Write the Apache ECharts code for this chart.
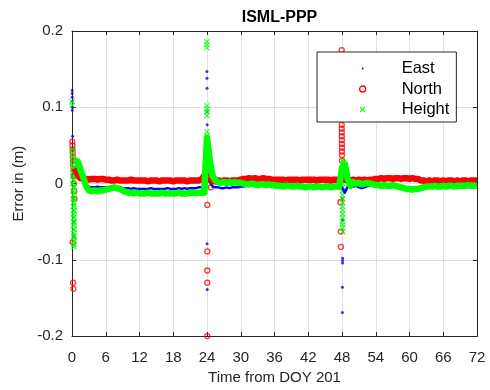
<!DOCTYPE html>
<html>
<head>
<meta charset="utf-8">
<script src="https://cdn.jsdelivr.net/npm/echarts@6/dist/echarts.min.js"></script>
<style>
  html, body { margin: 0; padding: 0; background: #fff; }
  #chart { width: 490px; height: 390px; }
</style>
</head>
<body>
<div id="chart"></div>
<script>
// PPP positioning error at station ISML, hours counted from DOY 201 00:00.

// Half-hourly epochs of the steady-state solution
const hours = [
  0.5, 1, 1.5, 2, 2.5, 3, 3.5, 4, 4.5, 5, 5.5, 6,
  6.5, 7, 7.5, 8, 8.5, 9, 9.5, 10, 10.5, 11, 11.5, 12,
  12.5, 13, 13.5, 14, 14.5, 15, 15.5, 16, 16.5, 17, 17.5, 18,
  18.5, 19, 19.5, 20, 20.5, 21, 21.5, 22, 22.5, 23, 23.5, 24,
  24.5, 25, 25.5, 26, 26.5, 27, 27.5, 28, 28.5, 29, 29.5, 30,
  30.5, 31, 31.5, 32, 32.5, 33, 33.5, 34, 34.5, 35, 35.5, 36,
  36.5, 37, 37.5, 38, 38.5, 39, 39.5, 40, 40.5, 41, 41.5, 42,
  42.5, 43, 43.5, 44, 44.5, 45, 45.5, 46, 46.5, 47, 47.5, 48,
  48.5, 49, 49.5, 50, 50.5, 51, 51.5, 52, 52.5, 53, 53.5, 54,
  54.5, 55, 55.5, 56, 56.5, 57, 57.5, 58, 58.5, 59, 59.5, 60,
  60.5, 61, 61.5, 62, 62.5, 63, 63.5, 64, 64.5, 65, 65.5, 66,
  66.5, 67, 67.5, 68, 68.5, 69, 69.5, 70, 70.5, 71, 71.5, 72
];

// Error components (m) at those epochs
const east = [
  0.020, 0.015, 0.008, 0.002, -0.003, -0.004, -0.005, -0.005, -0.004, -0.005, -0.005, -0.005,
  -0.005, -0.004, -0.005, -0.005, -0.005, -0.006, -0.006, -0.006, -0.007, -0.006, -0.007, -0.007,
  -0.007, -0.007, -0.007, -0.006, -0.007, -0.007, -0.007, -0.007, -0.007, -0.006, -0.007, -0.007,
  -0.007, -0.006, -0.007, -0.006, -0.007, -0.006, -0.006, -0.006, -0.005, -0.005, -0.004, 0.010,
  0.002, -0.004, -0.005, -0.005, -0.006, -0.006, -0.005, -0.006, -0.005, -0.005, -0.005, -0.004,
  -0.004, -0.003, -0.003, -0.003, -0.002, -0.002, -0.003, -0.003, -0.002, -0.003, -0.003, -0.004,
  -0.004, -0.004, -0.005, -0.004, -0.004, -0.005, -0.004, -0.004, -0.005, -0.004, -0.004, -0.005,
  -0.005, -0.004, -0.004, -0.005, -0.004, -0.004, -0.004, -0.005, -0.004, -0.004, -0.004, -0.005,
  -0.012, -0.004, -0.005, -0.004, -0.003, -0.005, -0.006, -0.005, -0.003, -0.003, -0.002, -0.003,
  -0.003, -0.003, -0.004, -0.003, -0.003, -0.004, -0.004, -0.005, -0.004, -0.004, -0.005, -0.005,
  -0.005, -0.005, -0.006, -0.005, -0.004, -0.004, -0.004, -0.004, -0.003, -0.003, -0.003, -0.003,
  -0.003, -0.003, -0.003, -0.003, -0.002, -0.003, -0.003, -0.002, -0.002, -0.003, -0.002, -0.002
];
const north = [
  0.020, 0.012, 0.007, 0.006, 0.006, 0.005, 0.006, 0.006, 0.005, 0.006, 0.006, 0.005,
  0.005, 0.004, 0.004, 0.005, 0.004, 0.004, 0.004, 0.004, 0.005, 0.004, 0.004, 0.004,
  0.004, 0.004, 0.003, 0.004, 0.004, 0.004, 0.003, 0.004, 0.004, 0.004, 0.004, 0.003,
  0.004, 0.004, 0.004, 0.004, 0.003, 0.004, 0.004, 0.004, 0.004, 0.005, 0.010, 0.020,
  0.008, 0.003, 0.003, 0.004, 0.003, 0.004, 0.004, 0.003, 0.004, 0.004, 0.004, 0.005,
  0.006, 0.006, 0.007, 0.006, 0.007, 0.006, 0.006, 0.007, 0.006, 0.006, 0.005, 0.005,
  0.005, 0.005, 0.005, 0.004, 0.005, 0.005, 0.005, 0.005, 0.004, 0.005, 0.005, 0.005,
  0.005, 0.005, 0.004, 0.005, 0.005, 0.005, 0.005, 0.004, 0.005, 0.005, 0.005, 0.006,
  0.005, 0.004, 0.004, 0.005, 0.004, 0.005, 0.004, 0.005, 0.004, 0.005, 0.005, 0.006,
  0.006, 0.007, 0.006, 0.007, 0.007, 0.006, 0.007, 0.007, 0.006, 0.007, 0.007, 0.006,
  0.007, 0.006, 0.006, 0.004, 0.004, 0.003, 0.004, 0.003, 0.004, 0.004, 0.003, 0.004,
  0.003, 0.004, 0.004, 0.003, 0.004, 0.003, 0.004, 0.004, 0.003, 0.004, 0.004, 0.004
];
const height = [
  0.030, 0.029, 0.018, 0.008, -0.003, -0.009, -0.010, -0.009, -0.010, -0.009, -0.009, -0.008,
  -0.007, -0.006, -0.005, -0.006, -0.007, -0.009, -0.011, -0.012, -0.012, -0.013, -0.012, -0.013,
  -0.013, -0.013, -0.012, -0.013, -0.013, -0.013, -0.013, -0.012, -0.013, -0.013, -0.013, -0.013,
  -0.013, -0.012, -0.013, -0.013, -0.013, -0.012, -0.012, -0.013, -0.012, -0.012, -0.012, 0.060,
  0.030, 0.010, 0.004, 0.002, 0.001, 0.002, 0.001, 0.002, 0.001, 0.002, 0.001, 0.001,
  0.000, -0.001, -0.001, 0.000, -0.001, -0.002, -0.001, -0.001, -0.002, -0.001, -0.002, -0.002,
  -0.003, -0.003, -0.004, -0.003, -0.003, -0.004, -0.004, -0.003, -0.004, -0.004, -0.005, -0.004,
  -0.004, -0.005, -0.004, -0.004, -0.005, -0.004, -0.004, -0.005, -0.004, -0.004, -0.004, 0.020,
  0.025, 0.006, -0.003, 0.002, 0.000, 0.001, -0.001, 0.000, 0.001, 0.000, -0.001, -0.002,
  -0.002, -0.003, -0.002, -0.003, -0.003, -0.002, -0.003, -0.004, -0.005, -0.006, -0.007, -0.007,
  -0.008, -0.007, -0.007, -0.006, -0.005, -0.004, -0.004, -0.004, -0.003, -0.004, -0.004, -0.003,
  -0.004, -0.003, -0.003, -0.004, -0.003, -0.003, -0.003, -0.003, -0.002, -0.003, -0.003, -0.003
];

// Re-initialisation epochs at each day boundary: [hour, error (m)]
const eastReset = [
  [0.02, 0.122], [0.03, 0.118], [0.04, 0.113], [0.05, 0.108], [0.06, 0.100], [0.07, 0.096],
  [0.10, 0.062], [0.12, 0.045], [0.15, 0.030], [0.20, 0.010], [0.25, -0.020], [0.30, -0.050], [0.35, -0.070],
  [23.98, 0.147], [23.99, 0.138], [24.00, 0.125], [24.02, 0.094], [24.03, 0.077], [24.05, 0.050],
  [24.10, 0.030], [24.02, -0.079], [24.03, -0.139], [23.90, 0.000],
  [48.05, 0.020], [48.08, -0.020], [48.10, -0.048], [48.10, -0.098], [48.10, -0.101], [48.10, -0.104],
  [48.08, -0.136], [48.08, -0.169]
];
const northReset = [
  [0.05, 0.055], [0.08, 0.050], [0.10, 0.045], [0.12, 0.040], [0.15, 0.035], [0.18, 0.030],
  [0.20, 0.025], [0.25, 0.018], [0.30, 0.010], [0.35, 0.000], [0.40, -0.010], [0.45, -0.020],
  [0.10, -0.077], [0.20, -0.130], [0.25, -0.138],
  [23.70, 0.015], [23.80, 0.025], [23.90, 0.035], [24.00, 0.045], [24.10, 0.040], [24.20, 0.030],
  [24.30, 0.020], [24.50, 0.005], [24.70, -0.005], [24.05, -0.028], [24.05, -0.089], [24.05, -0.114],
  [24.05, -0.130], [24.05, -0.200],
  [47.95, 0.175], [47.95, 0.077], [47.95, 0.072], [47.97, 0.067], [47.97, 0.062], [47.98, 0.057],
  [47.98, 0.052], [47.99, 0.047], [47.99, 0.042], [48.00, 0.037], [48.00, 0.030], [48.05, 0.020],
  [48.10, 0.010], [47.70, -0.0245], [47.80, -0.063], [47.80, -0.083]
];
const heightReset = [
  [0.02, 0.107], [0.03, 0.103], [0.08, 0.045], [0.10, 0.040], [0.11, 0.035], [0.12, 0.030],
  [0.13, 0.025], [0.14, 0.020], [0.15, 0.015], [0.16, 0.010], [0.17, 0.005], [0.18, 0.000],
  [0.19, -0.005], [0.20, -0.010], [0.21, -0.015], [0.22, -0.020], [0.23, -0.025], [0.24, -0.030],
  [0.25, -0.035], [0.26, -0.040], [0.27, -0.045], [0.28, -0.050], [0.29, -0.055], [0.30, -0.060],
  [0.31, -0.065], [0.32, -0.070], [0.33, -0.075], [0.34, -0.080], [0.35, -0.083], [0.36, -0.076],
  [0.37, -0.068], [0.38, -0.060], [0.39, -0.052], [0.40, -0.044], [0.41, -0.036], [0.42, -0.028],
  [0.43, -0.020], [0.44, -0.012], [0.45, -0.004], [0.46, 0.004], [0.47, 0.012], [0.48, 0.020],
  [23.97, 0.186], [23.97, 0.182], [23.97, 0.178], [23.99, 0.102], [23.99, 0.098], [23.99, 0.094],
  [23.99, 0.089], [24.00, 0.068], [24.02, 0.062], [24.04, 0.056], [24.06, 0.050], [24.10, 0.045],
  [24.15, 0.040], [24.20, 0.035], [24.30, 0.030], [24.40, 0.025], [24.60, 0.018], [24.80, 0.012],
  [25.00, 0.008], [23.90, -0.005], [23.95, 0.010], [23.95, 0.020], [23.95, 0.030], [23.95, 0.040],
  [48.10, 0.030], [48.10, 0.025], [48.10, 0.020], [48.10, 0.015], [48.10, 0.010], [48.10, 0.005],
  [48.10, 0.000], [48.10, -0.005], [48.10, -0.010], [48.10, -0.015], [48.10, -0.020], [48.10, -0.025],
  [48.10, -0.030], [48.10, -0.035], [48.10, -0.040], [48.10, -0.045], [48.10, -0.050], [48.12, -0.054],
  [48.12, -0.058], [48.12, -0.063],
  [48.30, 0.028], [48.50, 0.025], [48.70, 0.018], [48.90, 0.010]
];

const xTicks = { min: 0, max: 72, step: 6 };
const yTicks = { min: -0.2, max: 0.2, step: 0.1 };

function pairs(times, values) {
  return times.map((t, i) => [t, values[i]]);
}

const FONT = '"Liberation Sans", Arial, Helvetica, sans-serif';
const INK = '#262626';
const BLUE = '#0000ff', RED = '#ff0000', GREEN = '#00ff00';
const CROSS = 'path://M0,1.4L1.4,0L5,3.6L8.6,0L10,1.4L6.4,5L10,8.6L8.6,10L5,6.4L1.4,10L0,8.6L3.6,5Z';
const DOT = 'path://M0,0ZM10,10ZM5,3.5A1.5,1.5,0,1,1,5,6.5A1.5,1.5,0,1,1,5,3.5Z';

const chart = echarts.init(document.getElementById('chart'), null, { renderer: 'canvas' });

const baseAxis = {
  axisLine: { show: true, onZero: false, lineStyle: { color: INK, width: 1 } },
  axisTick: { show: true, inside: true, length: 4, lineStyle: { color: INK } }
};

// dense 30 s solution rendered as a continuous band of markers
function band(name, data, color, width) {
  return {
    name, type: 'line', data, xAxisIndex: 0, yAxisIndex: 0,
    showSymbol: false, symbol: 'none', smooth: false,
    lineStyle: { color, width, cap: 'butt', join: 'round' },
    itemStyle: { color }
  };
}
function scatter(name, data, symbol, size, itemStyle) {
  return {
    name, type: 'scatter', data, xAxisIndex: 0, yAxisIndex: 0,
    symbol, symbolSize: size, itemStyle
  };
}

chart.setOption({
  animation: false,
  backgroundColor: '#fff',
  title: {
    text: 'ISML-PPP',
    left: 274.5,
    top: 5,
    textAlign: 'center',
    textStyle: { fontFamily: FONT, fontSize: 16, fontWeight: 'bold', color: '#000' }
  },
  grid: { left: 72, right: 13, top: 31, bottom: 49, containLabel: false },
  legend: {
    left: 317,
    top: 52,
    orient: 'vertical',
    backgroundColor: '#fff',
    borderColor: INK,
    borderWidth: 1,
    borderRadius: 0,
    padding: [8, 7, 4, 42],
    itemWidth: 68,
    itemHeight: 6,
    itemGap: 3.5,
    textStyle: { fontFamily: FONT, fontSize: 16.5, color: '#000', lineHeight: 16 },
    data: [
      { name: 'East', icon: DOT, itemStyle: { color: BLUE, borderWidth: 0 } },
      { name: 'North', icon: 'circle', itemStyle: { color: 'rgba(0,0,0,0)', borderColor: RED, borderWidth: 1.3 } },
      { name: 'Height', icon: CROSS, itemStyle: { color: GREEN, borderWidth: 0 } }
    ]
  },
  xAxis: [
    Object.assign({
      type: 'value', position: 'bottom',
      min: xTicks.min, max: xTicks.max, interval: xTicks.step,
      name: 'Time from DOY 201', nameLocation: 'middle', nameGap: 26,
      nameTextStyle: { fontFamily: FONT, fontSize: 15, color: INK },
      axisLabel: { margin: 14, fontFamily: FONT, fontSize: 15, color: INK },
      splitLine: { show: true, lineStyle: { color: '#e0e0e0', width: 1 } }
    }, baseAxis),
    Object.assign({
      type: 'value', position: 'top',
      min: xTicks.min, max: xTicks.max, interval: xTicks.step,
      axisLabel: { show: false }, splitLine: { show: false }
    }, baseAxis)
  ],
  yAxis: [
    Object.assign({
      type: 'value', position: 'left',
      min: yTicks.min, max: yTicks.max, interval: yTicks.step,
      name: 'Error in (m)', nameLocation: 'middle', nameGap: 39,
      nameTextStyle: { fontFamily: FONT, fontSize: 15, color: INK },
      axisLabel: { margin: 9, fontFamily: FONT, fontSize: 15, color: INK },
      splitLine: { show: true, lineStyle: { color: '#e0e0e0', width: 1 } }
    }, baseAxis),
    Object.assign({
      type: 'value', position: 'right',
      min: yTicks.min, max: yTicks.max, interval: yTicks.step,
      axisLabel: { show: false }, splitLine: { show: false }
    }, baseAxis)
  ],
  series: [
    band('East', pairs(hours, east), BLUE, 2.5),
    scatter('East', eastReset, 'circle', 3, { color: BLUE }),
    band('North', pairs(hours, north), RED, 6.5),
    scatter('North', northReset, 'circle', 5, { color: 'rgba(0,0,0,0)', borderColor: RED, borderWidth: 1.3 }),
    band('Height', pairs(hours, height), GREEN, 6.5),
    scatter('Height', heightReset, CROSS, 6, { color: GREEN })
  ]
});
</script>
</body>
</html>
